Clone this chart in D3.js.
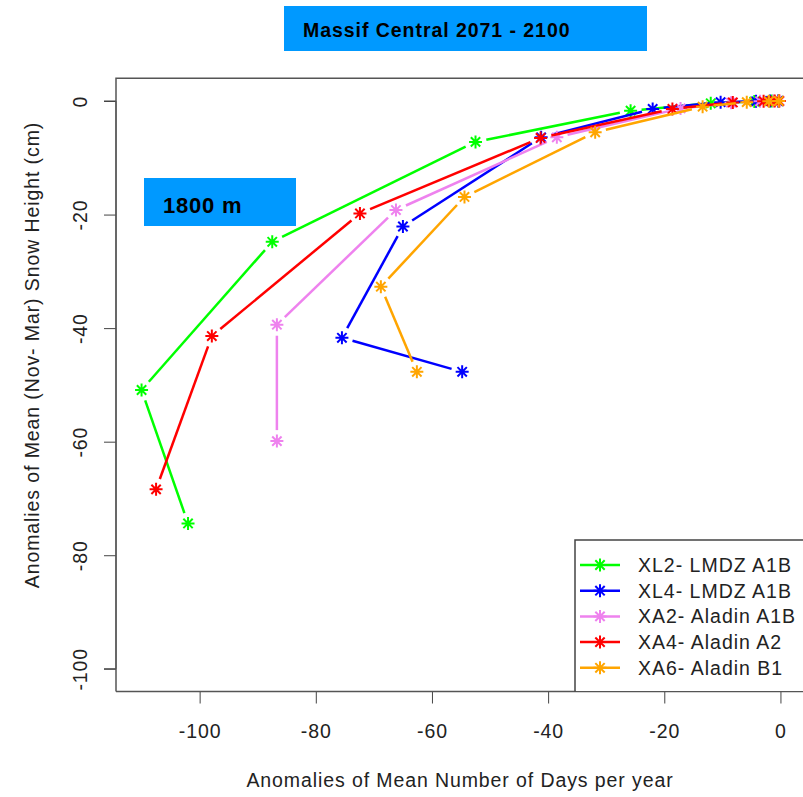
<!DOCTYPE html>
<html><head><meta charset="utf-8">
<script src="https://cdn.jsdelivr.net/npm/d3@7"></script>
<style>body{margin:0;background:#fff}svg{display:block}</style>
</head><body>
<script>
const seriesNames = ["XL2- LMDZ A1B","XL4- LMDZ A1B","XA2- Aladin A1B","XA4- Aladin A2","XA6- Aladin B1"];
const seriesColors = ["#00FF00","#0000FF","#EE82EE","#FF0000","#FFA500"];
const xl2Days = [-102,-110,-87.5,-52.5,-25.8,-12,-4.5,-1.5,-0.3];
const xl2Snow = [-74.4,-50.9,-24.8,-7.2,-1.7,-0.4,-0.1,0,0];
const xl4Days = [-54.8,-75.5,-65,-41.2,-22,-10.3,-4.2,-1.8,-0.4];
const xl4Snow = [-47.7,-41.7,-22.1,-6.4,-1.4,-0.2,-0.05,0,0];
const xa2Days = [-86.7,-86.7,-66.2,-38.5,-17.2,-8.5,-3.5,-1.2,-0.2];
const xa2Snow = [-59.9,-39.4,-19.2,-6.4,-1.3,-0.3,-0.05,0,0];
const xa4Days = [-107.5,-97.9,-72.4,-41.3,-18.6,-8.2,-2.9,-1,-0.2];
const xa4Snow = [-68.4,-41.4,-19.8,-6.5,-1.4,-0.25,-0.05,0,0];
const xa6Days = [-62.6,-68.8,-54.4,-31.9,-13.4,-5.8,-2,-0.3];
const xa6Snow = [-47.7,-32.7,-16.9,-5.5,-1.0,-0.2,-0.05,0];
const xTicks = [-100,-80,-60,-40,-20,0];
const yTicks = [0,-20,-40,-60,-80,-100];
const titleText = "Massif Central 2071 - 2100";
const boxText = "1800 m";
const xTitle = "Anomalies of Mean Number of Days per year";
const yTitle = "Anomalies of Mean (Nov- Mar) Snow Height (cm)";

const allDays = [xl2Days,xl4Days,xa2Days,xa4Days,xa6Days];
const allSnow = [xl2Snow,xl4Snow,xa2Snow,xa4Snow,xa6Snow];

const W=803,H=797;
const FONT="'Liberation Sans', Arial, sans-serif";
const FS=19.5, LS="0.9px";
const svg=d3.select("body").append("svg").attr("width",W).attr("height",H)
  .style("font-family",FONT);

const x=d3.scaleLinear().domain([-114.4,4.4]).range([116,806]);
const y=d3.scaleLinear().domain([-104,4]).range([691.5,78.3]);

// title box
svg.append("rect").attr("x",284).attr("y",6).attr("width",363).attr("height",45).attr("fill","#0099FF");
svg.append("text").attr("x",303).attr("y",37).attr("font-weight","bold").attr("font-size",19.5)
  .attr("letter-spacing","0.95px").attr("fill","#000").text(titleText);

// axes
const fmt=d=>String(d);
const yAxis=d3.axisLeft(y).tickValues(yTicks).tickSize(12).tickFormat(fmt);
const gy=svg.append("g").attr("transform","translate(116,0)").call(yAxis);
gy.select(".domain").attr("d",`M-12,${y(0)}H0V${y(-100)}H-12`).attr("stroke","#444");
gy.selectAll(".tick line").attr("stroke","#444");
gy.selectAll(".tick text").attr("font-size",FS).attr("letter-spacing",LS).attr("fill","#222").attr("font-family",FONT)
  .attr("transform",`rotate(-90,-36,0)`).attr("x",-36).attr("y",0).attr("dy","0.35em").attr("text-anchor","middle");

const xAxis=d3.axisBottom(x).tickValues(xTicks).tickSize(12).tickFormat(fmt);
const gx=svg.append("g").attr("transform","translate(0,691.5)").call(xAxis);
gx.select(".domain").remove();
gx.selectAll(".tick line").attr("stroke","#444");
gx.selectAll(".tick text").attr("font-size",FS).attr("letter-spacing",LS).attr("fill","#222").attr("font-family",FONT).attr("y",46.5).attr("dy","0");

// box
svg.append("path").attr("d",`M116,691.5V78.3H810M116,691.5H810`).attr("fill","none").attr("stroke","#555").attr("stroke-width",1.5);

svg.append("text").attr("x",460).attr("y",787).attr("text-anchor","middle").attr("font-size",FS).attr("letter-spacing",LS).attr("fill","#222").text(xTitle);
svg.append("text").attr("transform","translate(39,355) rotate(-90)").attr("text-anchor","middle").attr("font-size",FS).attr("letter-spacing",LS).attr("fill","#222").text(yTitle);

// 1800 m box
svg.append("rect").attr("x",144).attr("y",178).attr("width",152).attr("height",48).attr("fill","#0099FF");
svg.append("text").attr("x",163).attr("y",212.5).attr("font-weight","bold").attr("font-size",22).attr("letter-spacing","0.8px").attr("fill","#000").text(boxText);

const gap=11;
function star(g,cx,cy,col,r){
  const d=r*0.72;
  g.append("path").attr("d",`M${cx-r},${cy}H${cx+r}M${cx},${cy-r}V${cy+r}M${cx-d},${cy-d}L${cx+d},${cy+d}M${cx-d},${cy+d}L${cx+d},${cy-d}`)
   .attr("stroke",col).attr("stroke-width",2).attr("fill","none");
}
const plot=svg.append("g");
allDays.forEach((days,si)=>{
  const col=seriesColors[si];
  const pts=days.map((d,i)=>[x(d),y(allSnow[si][i])]);
  for(let i=0;i<pts.length-1;i++){
    const [x1,y1]=pts[i],[x2,y2]=pts[i+1];
    const L=Math.hypot(x2-x1,y2-y1);
    if(L<=2*gap) continue;
    const ux=(x2-x1)/L,uy=(y2-y1)/L;
    plot.append("line").attr("x1",x1+ux*gap).attr("y1",y1+uy*gap).attr("x2",x2-ux*gap).attr("y2",y2-uy*gap)
      .attr("stroke",col).attr("stroke-width",2.5);
  }
  pts.forEach(p=>star(plot,p[0],p[1],col,6.5));
});

// legend
const lg=svg.append("g");
lg.append("rect").attr("x",576).attr("y",541).attr("width",230).attr("height",150).attr("fill","#fff");
lg.append("path").attr("d","M575,691.5V540H810").attr("fill","none").attr("stroke","#444").attr("stroke-width",1.5);
seriesNames.forEach((n,i)=>{
  const yy=565+i*25.7;
  lg.append("line").attr("x1",580).attr("x2",620).attr("y1",yy).attr("y2",yy).attr("stroke",seriesColors[i]).attr("stroke-width",2.5);
  star(lg,600,yy,seriesColors[i],6.5);
  lg.append("text").attr("x",638).attr("y",yy).attr("dy","0.35em").attr("font-size",FS).attr("letter-spacing","1px").attr("fill","#222").text(n);
});
</script>
</body></html>
